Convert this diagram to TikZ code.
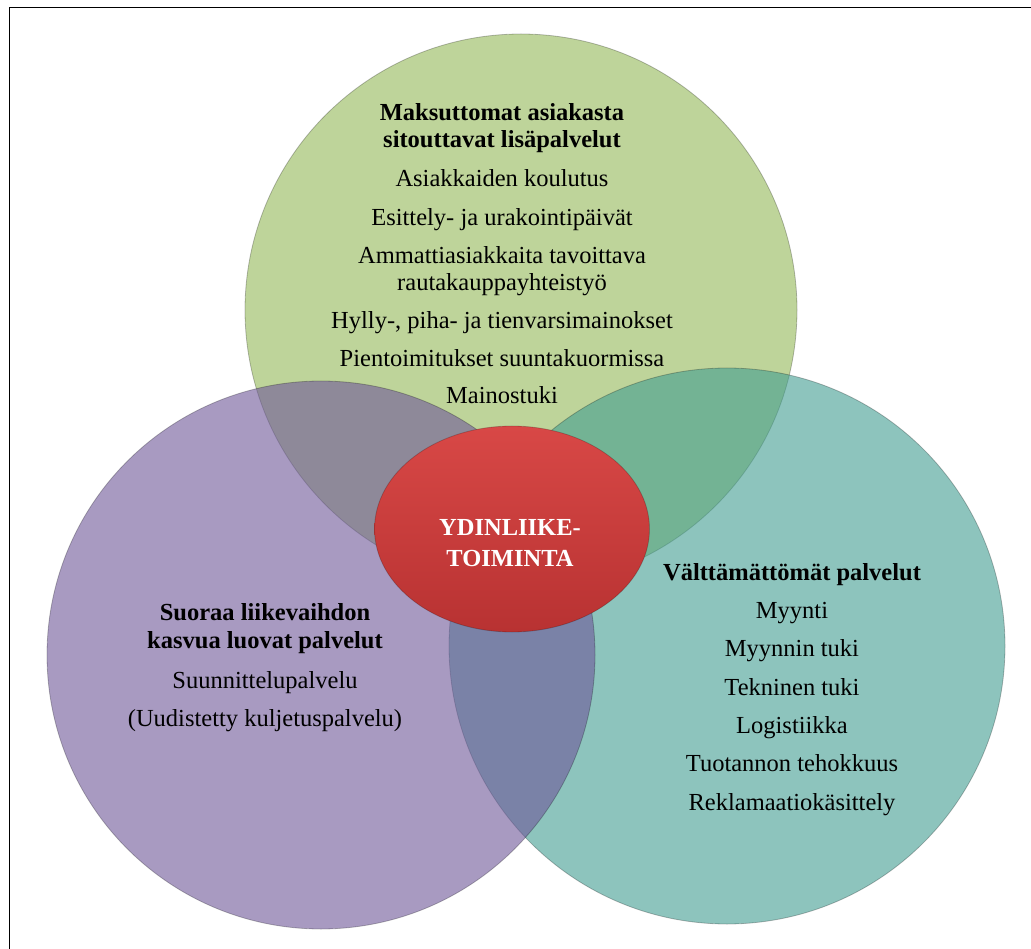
\documentclass[tikz,border=0pt]{standalone}
\usepackage{fontspec}
\setmainfont{Liberation Serif}
\usetikzlibrary{shapes.geometric}
\definecolor{vgreen}{RGB}{190,212,154}
\definecolor{vteal}{RGB}{65,157,145}
\definecolor{vpurple}{RGB}{110,87,153}
\definecolor{vredtop}{RGB}{216,72,70}
\definecolor{vredbot}{RGB}{184,50,50}
\tikzset{
  venn/.style={circle, inner sep=0pt, draw=black, draw opacity=0.25, line width=0.8pt},
  txt/.style={font=\fontsize{24.5}{28}\selectfont, text height=17pt, text depth=6pt, inner sep=0pt, anchor=center, yshift=-3pt},
  ttl/.style={txt, font=\fontsize{24.5}{28}\selectfont\bfseries},
  coretxt/.style={ttl, text=white},
  frame/.style={draw=black, line width=1.8pt}
}
\begin{document}
\begin{tikzpicture}[x=1pt,y=-1pt]
\useasboundingbox (0,0) rectangle (1031,949);
\fill[white] (0,0) rectangle (1031,949);
\draw[frame] (9.5,960) -- (9.5,7.5) -- (1040,7.5);
% circles
\node[venn, fill=vgreen, minimum size=552] (green) at (521,310) {};
\node[venn, fill=vteal, fill opacity=0.6, minimum size=556] (teal) at (727,646) {};
\node[venn, fill=vpurple, fill opacity=0.6, minimum size=548] (purple) at (321,655) {};
\node[ellipse, inner sep=0pt, minimum width=275, minimum height=206,
      top color=vredtop, bottom color=vredbot, draw=black, draw opacity=0.2, line width=0.8pt] (core) at (512,529) {};
% core text
\node[coretxt] (c1) at (510,527) {YDINLIIKE-};
\node[coretxt] (c2) at (510,558) {TOIMINTA};
% green text
\node[ttl] (g1) at (502,112) {Maksuttomat asiakasta};
\node[ttl] (g2) at (502,139) {sitouttavat lisäpalvelut};
\node[txt] (g3) at (502,178) {Asiakkaiden koulutus};
\node[txt] (g4) at (502,217) {Esittely- ja urakointipäivät};
\node[txt] (g5) at (502,255) {Ammattiasiakkaita tavoittava};
\node[txt] (g6) at (502,282) {rautakauppayhteistyö};
\node[txt] (g7) at (502,320) {Hylly-, piha- ja tienvarsimainokset};
\node[txt] (g8) at (502,358) {Pientoimitukset suuntakuormissa};
\node[txt] (g9) at (502,395) {Mainostuki};
% purple text
\node[ttl] (p1) at (265,612) {Suoraa liikevaihdon};
\node[ttl] (p2) at (265,640) {kasvua luovat palvelut};
\node[txt] (p3) at (265,680) {Suunnittelupalvelu};
\node[txt] (p4) at (265,718) {(Uudistetty kuljetuspalvelu)};
% teal text
\node[ttl] (t1) at (792,572) {Välttämättömät palvelut};
\node[txt] (t2) at (792,610) {Myynti};
\node[txt] (t3) at (792,648) {Myynnin tuki};
\node[txt] (t4) at (792,687) {Tekninen tuki};
\node[txt] (t5) at (792,725) {Logistiikka};
\node[txt] (t6) at (792,763) {Tuotannon tehokkuus};
\node[txt] (t7) at (792,802) {Reklamaatiokäsittely};
\end{tikzpicture}
\end{document}
